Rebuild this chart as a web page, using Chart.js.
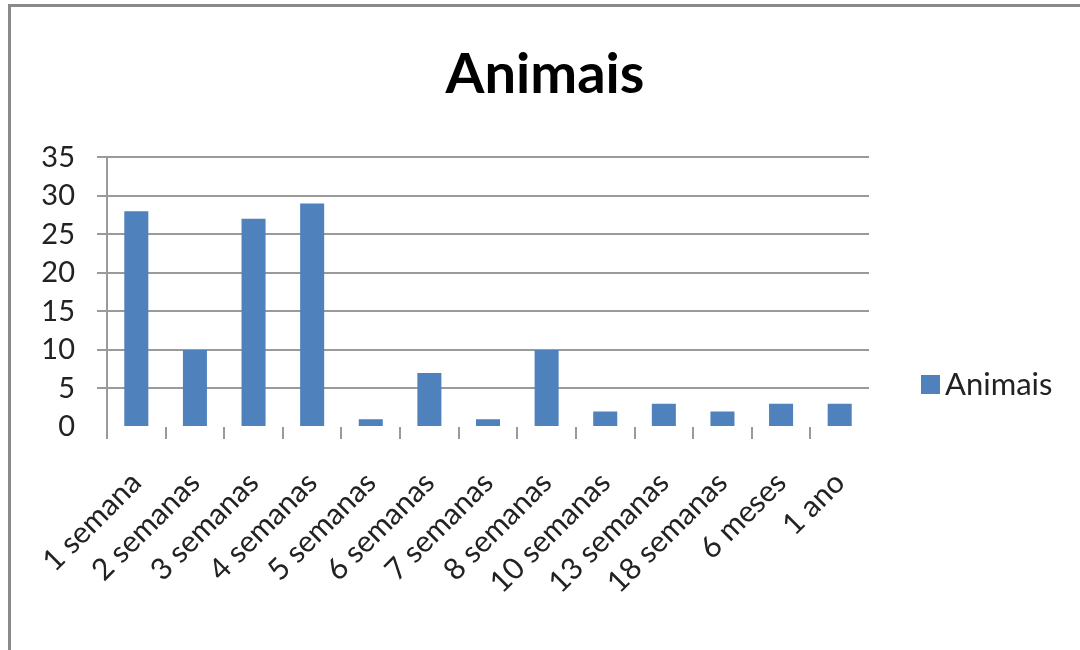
<!DOCTYPE html>
<html>
<head>
<meta charset="utf-8">
<script src="https://cdn.jsdelivr.net/npm/chart.js@4/dist/chart.umd.min.js"></script>
<style>
  html, body { margin: 0; padding: 0; background: #fff; overflow: hidden; }
  #frame {
    position: absolute; left: 8px; top: 4px; width: 1200px; height: 800px;
    border-top: 3px solid #8a8a8a; border-left: 3px solid #8a8a8a;
  }
  #wrap { position: absolute; left: 0; top: 0; width: 1080px; height: 650px; }
</style>
</head>
<body>
<div id="frame"></div>
<div id="wrap"><canvas id="c" width="1080" height="650"></canvas></div>
<script>
const categories = ['1 semana', '2 semanas', '3 semanas', '4 semanas', '5 semanas', '6 semanas',
  '7 semanas', '8 semanas', '10 semanas', '13 semanas', '18 semanas', '6 meses', '1 ano'];
const animais = [28, 10, 27, 29, 1, 7, 1, 10, 2, 3, 2, 3, 3];
const seriesName = 'Animais';
const yTicks = [0, 5, 10, 15, 20, 25, 30, 35];

const FONT = 'Lato, "Open Sans", sans-serif';
const GRID = '#9a9a9a';
const BAR = '#4F81BD';

// Legend drawn to the right of the plot: one square key plus the series name
const sideLegend = {
  id: 'sideLegend',
  afterDraw(chart) {
    const ctx = chart.ctx;
    const ds = chart.data.datasets[0];
    ctx.save();
    ctx.fillStyle = ds.backgroundColor;
    ctx.fillRect(921, 375, 19, 19);
    ctx.fillStyle = '#222';
    ctx.font = '31px ' + FONT;
    ctx.textBaseline = 'alphabetic';
    ctx.textAlign = 'left';
    ctx.fillText(ds.label, 945, 395);
    ctx.restore();
  }
};

new Chart(document.getElementById('c'), {
  type: 'bar',
  data: {
    labels: categories,
    datasets: [{
      label: seriesName,
      data: animais,
      backgroundColor: BAR,
      borderWidth: 0,
      barPercentage: 0.41,
      categoryPercentage: 1.0
    }]
  },
  options: {
    responsive: false,
    animation: false,
    layout: { padding: { left: 10, right: 0, top: 0, bottom: 0 } },
    plugins: {
      legend: { display: false },
      tooltip: { enabled: false },
      title: {
        display: true,
        text: seriesName,
        color: '#000',
        font: { family: FONT, size: 56, weight: 'bold', lineHeight: 1.2 },
        padding: { top: 41, bottom: 49 }
      }
    },
    scales: {
      x: {
        offset: true,
        grid: {
          offset: true,
          drawOnChartArea: false,
          drawTicks: true,
          tickLength: 12,
          // category separators; none at the far right end
          color: ctx => ctx.type === 'tick' ? GRID : 'rgba(0,0,0,0)',
          lineWidth: 2
        },
        border: { display: false },
        ticks: {
          color: '#222',
          font: { family: FONT, size: 30 },
          minRotation: 45,
          maxRotation: 45,
          padding: 26,
          autoSkip: false
        },
        afterFit(scale) { scale.height = 650 - 427; }
      },
      y: {
        min: 0,
        max: 35,
        afterBuildTicks(scale) { scale.ticks = yTicks.map(v => ({ value: v })); },
        grid: {
          color: ctx => (ctx.tick && ctx.tick.value === 0) ? 'rgba(0,0,0,0)' : GRID,
          lineWidth: 2,
          tickLength: 10
        },
        border: { display: true, color: GRID, width: 2 },
        ticks: {
          color: '#222',
          font: { family: FONT, size: 29 },
          padding: 22
        },
        afterFit(scale) { scale.width = 97; }
      },
      // empty right-hand band that leaves room for the legend
      legendSpace: {
        type: 'linear',
        position: 'right',
        display: true,
        grid: { display: false, drawTicks: false },
        border: { display: false },
        ticks: { display: false },
        afterFit(scale) { scale.width = 211; }
      }
    }
  },
  plugins: [sideLegend]
});
</script>
</body>
</html>
